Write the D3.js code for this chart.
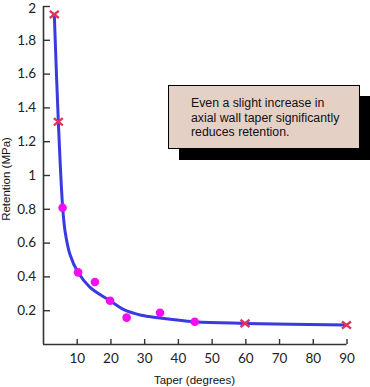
<!DOCTYPE html>
<html><head><meta charset="utf-8">
<script src="https://cdn.jsdelivr.net/npm/d3@7"></script>
<style>body{margin:0;background:#fff}svg{display:block}</style>
</head><body>
<svg id="c" width="370" height="387"></svg>
<script>
// Data
const xTicks = [10,20,30,40,50,60,70,80,90];
const yTicks = [0.2,0.4,0.6,0.8,1,1.2,1.4,1.6,1.8,2];
const dotTaper = [5.8,10.4,15.4,19.9,24.8,34.7,45];
const dotRet   = [0.806,0.424,0.367,0.256,0.156,0.185,0.132];
const crossTaper = [3.35,4.55,59.9,90];
const crossRet   = [1.95,1.315,0.122,0.112];
const curveTaper = [3.35,4.55,5.84,6.6,8.0,10.38,13.94,19.87,23.8,28.8,34.7,45,59.9,90];
const curveRet   = [1.95,1.315,0.806,0.66,0.53,0.424,0.335,0.256,0.205,0.172,0.154,0.132,0.122,0.112];
const noteLines = ["Even a slight increase in","axial wall taper significantly","reduces retention."];

const svg = d3.select("#c");
const x = d3.scaleLinear().domain([0,90]).range([43,346.5]);
const y = d3.scaleLinear().domain([0,2]).range([344,6]);
const axisColor = "#333";
const font = "Lato, 'Liberation Sans', sans-serif";

// callout
svg.append("rect").attr("x",179).attr("y",96).attr("width",192).attr("height",64).attr("fill","#000");
svg.append("rect").attr("x",168.5).attr("y",85.5).attr("width",191).attr("height",63)
  .attr("fill","#e5d0c6").attr("stroke","#000").attr("stroke-width",1);
svg.append("g").selectAll("text").data(noteLines).join("text")
  .attr("x",191).attr("y",(d,i)=>107+i*14.5)
  .attr("font-family","'Liberation Sans', Arial, sans-serif").attr("font-size",12.3).attr("fill","#111")
  .text(d=>d);

// axes
const xa = svg.append("g").attr("transform","translate(0,344)")
  .call(d3.axisBottom(x).tickValues(xTicks).tickSize(-5).tickPadding(9).tickSizeOuter(0));
const ya = svg.append("g").attr("transform","translate(43,0)")
  .call(d3.axisLeft(y).tickValues(yTicks).tickSize(-7).tickPadding(7).tickSizeOuter(0).tickFormat(d3.format("~g")));
[xa,ya].forEach(a=>{
  a.select(".domain").attr("stroke",axisColor).attr("stroke-width",1.6);
  a.selectAll(".tick line").attr("stroke",axisColor).attr("stroke-width",1.4);
  a.selectAll(".tick text").attr("font-family",font).attr("font-size",13.5).attr("fill","#222");
});
ya.selectAll(".tick text").filter(d=>d===2).attr("dy","0.85em").attr("y",-5);
xa.select(".domain").attr("d","M43,0.5H346.5");
ya.select(".domain").attr("d","M0.5,344V6");

// titles
svg.append("text").attr("x",194.5).attr("y",384).attr("text-anchor","middle")
  .attr("font-family","'Liberation Sans', Arial, sans-serif").attr("font-size",11.5).attr("fill","#111")
  .text("Taper (degrees)");
svg.append("text").attr("transform","translate(10,179) rotate(-90)").attr("text-anchor","middle")
  .attr("font-family","'Liberation Sans', Arial, sans-serif").attr("font-size",11.5).attr("fill","#111")
  .text("Retention (MPa)");

// curve
const curve = curveTaper.map((t,i)=>[t,curveRet[i]]);
svg.append("path").datum(curve)
  .attr("d",d3.line().x(d=>x(d[0])).y(d=>y(d[1])).curve(d3.curveCatmullRom.alpha(0.5)))
  .attr("fill","none").attr("stroke","#3a3ae0").attr("stroke-width",3);

// dots
svg.append("g").selectAll("circle").data(dotTaper.map((t,i)=>[t,dotRet[i]])).join("circle")
  .attr("cx",d=>x(d[0])).attr("cy",d=>y(d[1])).attr("r",4.3).attr("fill","#f50cf0");

// crosses
const s = 4.5;
svg.append("g").selectAll("path").data(crossTaper.map((t,i)=>[t,crossRet[i]])).join("path")
  .attr("d",d=>{const cx=x(d[0]),cy=y(d[1]);return `M${cx-s},${cy-s*0.8}L${cx+s},${cy+s*0.8}M${cx-s},${cy+s*0.8}L${cx+s},${cy-s*0.8}`;})
  .attr("stroke","#e0335a").attr("stroke-width",2.4).attr("fill","none");
</script>
</body></html>
